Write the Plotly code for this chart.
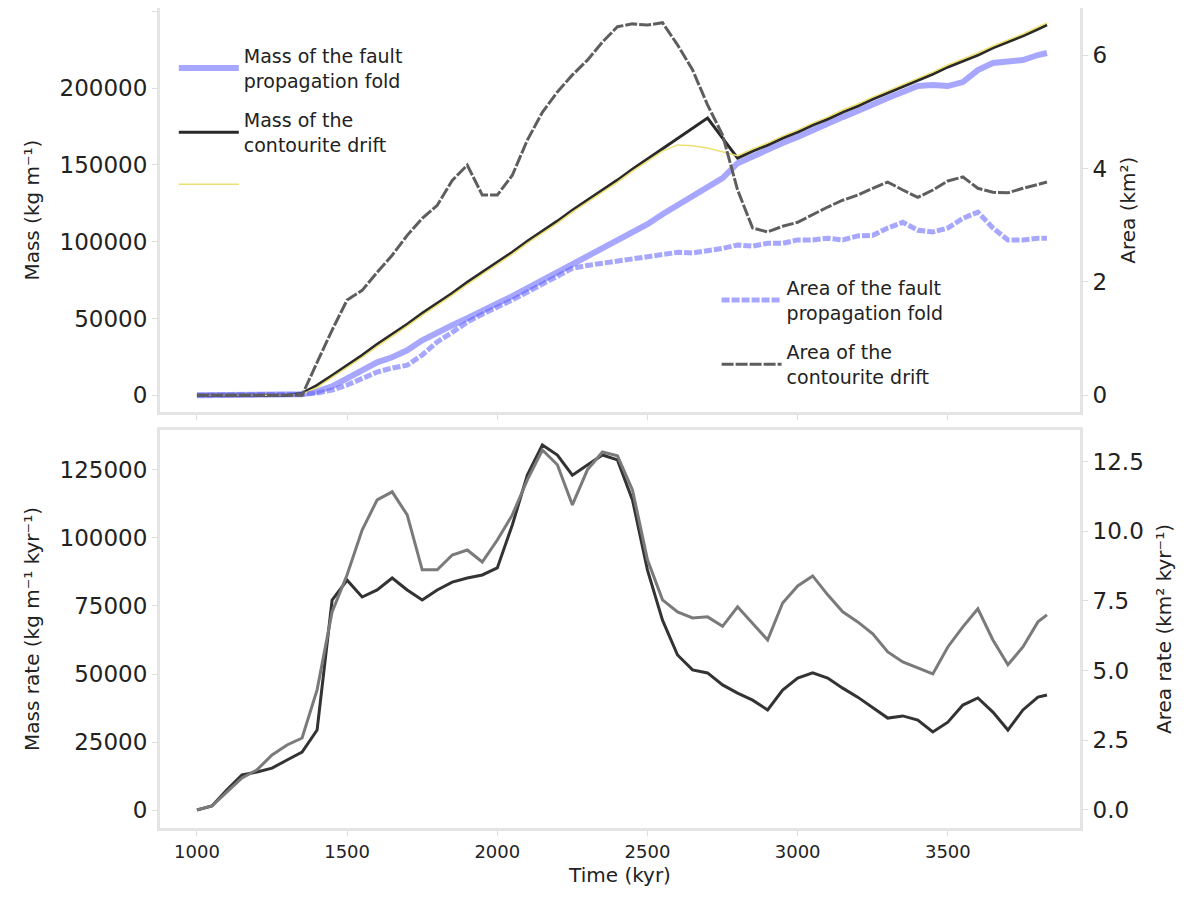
import plotly.graph_objects as go

# time axis (kyr)
time_kyr = [1000, 1050, 1100, 1150, 1200, 1250, 1300, 1350, 1400, 1450,
            1500, 1550, 1600, 1650, 1700, 1750, 1800, 1850, 1900, 1950,
            2000, 2050, 2100, 2150, 2200, 2250, 2300, 2350, 2400, 2450,
            2500, 2550, 2600, 2650, 2700, 2750, 2800, 2850, 2900, 2950,
            3000, 3050, 3100, 3150, 3200, 3250, 3300, 3350, 3400, 3450,
            3500, 3550, 3600, 3650, 3700, 3750, 3800, 3830]

# top panel, left axis: mass
mass_fold = [0, 0, 0, 0, 0, 0, 0, 700, 2600, 5900,
             11100, 16300, 21500, 24800, 29300, 35800, 41000, 45600, 50200, 55400,
             59900, 64500, 69700, 74900, 80800, 86000, 90600, 95800, 101000, 106200,
             111400, 117900, 123800, 129600, 135500, 141400, 151100, 155700, 159600, 164200,
             168100, 172600, 176600, 181100, 185000, 189600, 193500, 197400, 201300, 202000,
             201300, 203900, 211700, 216300, 217000, 218200, 221500, 222800]
mass_contourite = [0, 0, 0, 0, 0, 0, 0, 1300, 6500, 13000,
                   19500, 26100, 33200, 39700, 46300, 53400, 59900, 66500, 73600, 80100,
                   86600, 93200, 100300, 106800, 113400, 120500, 127000, 133600, 140100, 147200,
                   153800, 160300, 167400, 174000, 180500, 167400, 154400, 159000, 162900, 167400,
                   171300, 175900, 179800, 184400, 188300, 192800, 196800, 200700, 205200, 209100,
                   213700, 217600, 221500, 226100, 230000, 233900, 238400, 241100]
mass_total = [0, 0, 0, 0, 0, 0, 0, 700, 5200, 11700,
              18200, 24800, 31900, 38400, 45000, 52100, 58600, 65200, 72300, 78800,
              85300, 91900, 99000, 105500, 112100, 119200, 125700, 132300, 138800, 145900,
              152500, 159000, 163000, 162500, 161000, 158500, 156000, 160300, 164200, 168700,
              172600, 177200, 181100, 185700, 189600, 194100, 198100, 202000, 206500, 210400,
              215000, 218900, 222800, 227400, 231300, 235200, 239700, 242400]

# top panel, right axis: area
area_fold = [0, 0, 0, 0, 0, 0, 0, 0.02, 0.04, 0.09,
             0.18, 0.30, 0.41, 0.48, 0.53, 0.71, 0.94, 1.11, 1.29, 1.43,
             1.55, 1.68, 1.82, 1.96, 2.12, 2.24, 2.29, 2.33, 2.37, 2.42,
             2.45, 2.49, 2.52, 2.51, 2.54, 2.59, 2.65, 2.63, 2.68, 2.68,
             2.74, 2.74, 2.77, 2.74, 2.81, 2.82, 2.95, 3.05, 2.91, 2.88,
             2.95, 3.12, 3.23, 2.95, 2.74, 2.74, 2.77, 2.77]
area_contourite = [0, 0, 0, 0, 0, 0, 0, 0, 0.58, 1.15,
                   1.68, 1.85, 2.17, 2.47, 2.82, 3.12, 3.35, 3.79, 4.06, 3.53,
                   3.53, 3.88, 4.50, 4.99, 5.35, 5.65, 5.91, 6.23, 6.50, 6.55,
                   6.53, 6.57, 6.18, 5.74, 5.12, 4.59, 3.62, 2.95, 2.88, 2.98,
                   3.05, 3.19, 3.32, 3.44, 3.53, 3.65, 3.76, 3.62, 3.49, 3.62,
                   3.78, 3.85, 3.65, 3.58, 3.57, 3.65, 3.72, 3.76]

# bottom panel
mass_rate = [0, 1500, 7400, 12900, 14000, 15400, 18400, 21300, 29400, 77200,
             84500, 78300, 80900, 85300, 80900, 77200, 80900, 83800, 85300, 86400,
             89000, 104800, 123100, 134200, 130500, 123100, 126800, 130500, 128700, 114000,
             88200, 69800, 57000, 51500, 50400, 46000, 43000, 40400, 36800, 44100,
             48500, 50400, 48500, 44800, 41500, 37500, 33800, 34600, 33100, 28700,
             32300, 38600, 41200, 36000, 29400, 36800, 41500, 42300]
area_rate = [0, 0.14, 0.65, 1.15, 1.44, 1.97, 2.33, 2.58, 4.31, 7.11,
             8.44, 10.05, 11.13, 11.42, 10.59, 8.62, 8.62, 9.15, 9.33, 8.90,
             9.69, 10.59, 11.85, 12.92, 12.39, 10.95, 12.21, 12.85, 12.71, 11.49,
             8.98, 7.54, 7.11, 6.89, 6.93, 6.59, 7.29, 6.68, 6.10, 7.43,
             8.04, 8.40, 7.72, 7.11, 6.75, 6.32, 5.67, 5.31, 5.10, 4.88,
             5.85, 6.57, 7.22, 6.10, 5.21, 5.85, 6.75, 7.00]

BLUE = "rgba(95,95,255,0.55)"
FONT = "DejaVu Sans"

fig = go.Figure()

fig.add_trace(go.Scatter(x=time_kyr, y=mass_fold, mode="lines", xaxis="x", yaxis="y",
                         line=dict(color=BLUE, width=6),
                         name="Mass of the fault<br>propagation fold",
                         legend="legend", legendgroup="a"))
fig.add_trace(go.Scatter(x=time_kyr, y=mass_contourite, mode="lines", xaxis="x", yaxis="y",
                         line=dict(color="#2a2a2a", width=3),
                         name="Mass of the<br>contourite drift",
                         legend="legend", legendgroup="b"))
fig.add_trace(go.Scatter(x=time_kyr, y=mass_total, mode="lines", xaxis="x", yaxis="y",
                         line=dict(color="#eee070", width=1.5),
                         name=" ", legend="legend", legendgroup="c"))

fig.add_trace(go.Scatter(x=time_kyr, y=area_fold, mode="lines", xaxis="x", yaxis="y2",
                         line=dict(color=BLUE, width=5, dash="8px,2px"),
                         name="Area of the fault<br>propagation fold",
                         legend="legend2", legendgroup="d"))
fig.add_trace(go.Scatter(x=time_kyr, y=area_contourite, mode="lines", xaxis="x", yaxis="y2",
                         line=dict(color="#5e5e5e", width=3, dash="12px,2px"),
                         name="Area of the<br>contourite drift",
                         legend="legend2", legendgroup="e"))

fig.add_trace(go.Scatter(x=time_kyr, y=mass_rate, mode="lines", xaxis="x2", yaxis="y3",
                         line=dict(color="#333333", width=3), showlegend=False))
fig.add_trace(go.Scatter(x=time_kyr, y=area_rate, mode="lines", xaxis="x2", yaxis="y4",
                         line=dict(color="#7a7a7a", width=3), showlegend=False))

frame = dict(showline=True, linecolor="#e4e4e4", linewidth=3, mirror=True,
             ticks="outside", ticklen=5, tickcolor="#dddddd", showgrid=False,
             zeroline=False, tickfont=dict(size=18, color="#222"))
yframe = dict(frame, tickfont=dict(size=23, color="#222"))
yframe_r = {k: v for k, v in yframe.items() if k != "mirror"}

fig.update_layout(
    width=1200, height=900,
    paper_bgcolor="white", plot_bgcolor="white",
    font=dict(family=FONT, size=18, color="#222"),
    margin=dict(l=152, r=128, t=0, b=80, autoexpand=False),
    xaxis=dict(domain=[0, 1], anchor="y", range=[877, 3940], showticklabels=False,
               tickvals=[1000, 1500, 2000, 2500, 3000, 3500], **frame),
    yaxis=dict(domain=[0.507, 1], anchor="x", range=[-11000, 252100],
               dtick=50000, tickformat="d",
               title=dict(text="Mass (kg m⁻¹)", font=dict(size=20)), **yframe),
    yaxis2=dict(overlaying="y", side="right", anchor="x", range=[-0.3, 6.83],
                dtick=2, tickformat="d",
                title=dict(text="Area (km²)", font=dict(size=20)), **yframe_r),
    xaxis2=dict(domain=[0, 1], anchor="y3", range=[877, 3940],
                tickvals=[1000, 1500, 2000, 2500, 3000, 3500],
                title=dict(text="Time (kyr)", font=dict(size=20), standoff=8), **frame),
    yaxis3=dict(domain=[0, 0.4854], anchor="x2", range=[-6600, 139700],
                dtick=25000, tickformat="d",
                title=dict(text="Mass rate (kg m⁻¹ kyr⁻¹)", font=dict(size=20)), **yframe),
    yaxis4=dict(overlaying="y3", side="right", anchor="x2", range=[-0.65, 13.64],
                dtick=2.5, tickformat=".1f",
                title=dict(text="Area rate (km² kyr⁻¹)", font=dict(size=20)), **yframe_r),
    legend=dict(x=0.015, y=0.965, xanchor="left", yanchor="top", bgcolor="rgba(255,255,255,0)",
                font=dict(size=19, color="#222"), tracegroupgap=12, itemwidth=60),
    legend2=dict(x=0.605, y=0.682, xanchor="left", yanchor="top", bgcolor="rgba(255,255,255,0)",
                 font=dict(size=19, color="#222"), tracegroupgap=12, itemwidth=60),
)

fig.write_html("out.html")
